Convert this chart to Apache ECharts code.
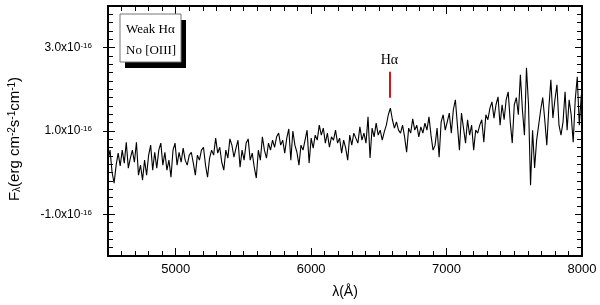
<!DOCTYPE html>
<html><head><meta charset="utf-8">
<script src="https://cdn.jsdelivr.net/npm/echarts@6/dist/echarts.min.js"></script>
<style>html,body{margin:0;padding:0;background:#fff}#c{width:600px;height:305px}</style>
</head><body><div id="c"></div>
<script>
// Wavelength grid (Angstrom)
const wavelength = [
4500,4515,4530,4545,4560,4575,4590,4605,4620,4635,4650,4665,4680,4695,4710,4725,4740,4755,4770,4785,
4800,4815,4830,4845,4860,4875,4890,4905,4920,4935,4950,4965,4980,4995,5010,5025,5040,5055,5070,5085,
5100,5115,5130,5145,5160,5175,5190,5205,5220,5235,5250,5265,5280,5295,5310,5325,5340,5355,5370,5385,
5400,5415,5430,5445,5460,5475,5490,5505,5520,5535,5550,5565,5580,5595,5610,5625,5640,5655,5670,5685,
5700,5715,5730,5745,5760,5775,5790,5805,5820,5835,5850,5865,5880,5895,5910,5925,5940,5955,5970,5985,
6000,6015,6030,6045,6060,6075,6090,6105,6120,6135,6150,6165,6180,6195,6210,6225,6240,6255,6270,6285,
6300,6315,6330,6345,6360,6375,6390,6405,6420,6435,6450,6465,6480,6495,6510,6525,6540,6555,6570,6585,
6600,6615,6630,6645,6660,6675,6690,6705,6720,6735,6750,6765,6780,6795,6810,6825,6840,6855,6870,6885,
6900,6915,6930,6945,6960,6975,6990,7005,7020,7035,7050,7065,7080,7095,7110,7125,7140,7155,7170,7185,
7200,7215,7230,7245,7260,7275,7290,7305,7320,7335,7350,7365,7380,7395,7410,7425,7440,7455,7470,7485,
7500,7515,7530,7545,7560,7575,7590,7605,7620,7635,7650,7665,7680,7695,7710,7725,7740,7755,7770,7785,
7800,7815,7830,7845,7860,7875,7890,7905,7920,7935,7950,7965,7980,7995
];
// Flux in units of 1e-16 erg cm^-2 s^-1 cm^-1
const flux = [
0.30,0.54,0.01,-0.25,0.18,0.47,0.16,0.54,0.23,0.73,0.11,0.35,0.54,0.25,0.73,-0.06,0.18,-0.18,0.30,-0.06,
0.42,0.66,0.06,0.49,0.11,0.54,0.71,0.18,0.49,0.06,0.30,-0.11,0.54,0.71,0.18,0.49,0.25,0.59,0.30,
0.18,0.42,0.49,0.23,-0.06,0.42,0.30,0.54,0.61,0.18,-0.11,0.35,0.54,0.42,0.83,0.47,0.61,0.25,0.06,0.54,
0.35,0.81,0.66,0.37,0.59,0.78,0.13,0.54,0.30,0.71,0.81,0.30,0.47,0.13,-0.13,0.54,0.30,0.86,
0.54,0.35,0.71,0.54,0.78,0.61,0.86,0.95,0.66,0.78,0.47,0.83,1.05,0.30,1.00,0.66,0.49,0.18,0.66,0.54,
0.78,1.02,0.23,0.83,0.59,0.90,0.78,1.14,0.90,1.07,0.71,0.95,0.61,0.86,0.78,1.02,0.71,0.83,0.47,0.78,
0.59,0.30,0.90,0.66,0.95,0.83,0.71,1.10,0.78,0.95,0.71,1.34,0.35,1.07,0.86,1.19,0.90,1.02,0.78,0.98,
1.14,1.39,1.55,1.27,1.07,1.22,1.02,0.95,1.14,0.86,0.49,1.07,0.95,1.29,1.02,1.14,0.86,1.10,0.95,1.19,
1.02,1.34,0.90,0.54,0.66,1.07,0.37,1.22,1.39,1.02,1.22,1.43,0.95,1.51,1.75,1.14,0.54,1.43,1.07,0.71,
1.27,0.90,1.14,0.54,1.02,0.95,1.14,1.27,0.73,1.39,1.27,1.55,1.70,1.31,1.63,1.82,1.14,1.63,1.27,
1.75,1.94,1.22,0.71,1.63,1.80,1.39,2.35,1.51,0.90,2.52,1.63,-0.30,1.02,0.11,0.78,1.14,1.51,1.80,1.27,
0.66,1.55,2.23,1.31,1.75,2.11,1.14,0.90,1.22,1.94,1.02,1.75,1.39,0.73,1.75,2.30,1.14,1.87
];
const xTickLabels = [5000, 6000, 7000, 8000];
const yTickLabels = [-1, 1, 3];
const legendLines = ['Weak H\u03b1', 'No [OIII]'];
const haLabel = 'H\u03b1';
const haWavelength = 6578;
const haMarkerRange = [1.80, 2.42];

const FONT = 'Liberation Sans, Arial, sans-serif';
const SERIF = 'Liberation Serif, Times New Roman, serif';
const X_MIN = 4500, X_MAX = 8000, Y_MIN = -2, Y_MAX = 4;
const n = Math.min(wavelength.length, flux.length);
const seriesData = [];
for (let i = 0; i < n; i++) seriesData.push([wavelength[i], flux[i]]);

function xAx(pos, extra) {
  return Object.assign({
    type: 'value', gridIndex: 0, position: pos, min: X_MIN, max: X_MAX,
    splitLine: { show: false },
    axisLine: { show: false, onZero: false },
    axisLabel: { show: false },
    axisTick: { show: false }
  }, extra);
}
function yAx(pos, extra) {
  return Object.assign({
    type: 'value', gridIndex: 0, position: pos, min: Y_MIN, max: Y_MAX,
    splitLine: { show: false },
    axisLine: { show: false, onZero: false },
    axisLabel: { show: false },
    axisTick: { show: false }
  }, extra);
}
const frameLine = () => ({ show: true, onZero: false, lineStyle: { color: '#000', width: 2 } });
const minorTick = () => ({ show: true, inside: true, length: 5, lineStyle: { color: '#000', width: 1 } });
const majorTick = (vals, inside, len) => ({ show: true, customValues: vals, inside: inside, length: len, lineStyle: { color: '#000', width: 1 } });

const chart = echarts.init(document.getElementById('c'), null, { width: 600, height: 305 });
chart.setOption({
  animation: false,
  backgroundColor: '#fff',
  grid: { left: 108, top: 6, width: 474, height: 250 },
  xAxis: [
    xAx('bottom', {
      interval: 100, axisLine: frameLine(), axisTick: minorTick(),
      axisLabel: { show: true, customValues: xTickLabels, formatter: v => String(v), fontSize: 13, fontFamily: FONT, color: '#000', margin: 7 },
      name: '\u03bb(\u00c5)', nameLocation: 'middle', nameGap: 29,
      nameTextStyle: { fontSize: 14, fontFamily: FONT, color: '#000' }
    }),
    xAx('bottom', { axisTick: majorTick(xTickLabels, true, 8) }),
    xAx('top', { interval: 100, axisLine: frameLine(), axisTick: minorTick() }),
    xAx('top', { axisTick: majorTick(xTickLabels, true, 8) })
  ],
  yAxis: [
    yAx('left', {
      interval: 0.2, axisLine: frameLine(), axisTick: minorTick(),
      axisLabel: {
        show: true, customValues: yTickLabels, margin: 16,
        formatter: v => '{m|' + Number(v).toFixed(1) + 'x10}{e|-16}',
        rich: {
          m: { fontSize: 12, fontFamily: FONT, color: '#000' },
          e: { fontSize: 8, fontFamily: FONT, color: '#000', verticalAlign: 'top' }
        }
      }
    }),
    yAx('left', { axisTick: majorTick(yTickLabels, false, 5) }),
    yAx('left', { axisTick: majorTick(yTickLabels, true, 7) }),
    yAx('right', { interval: 0.2, axisLine: frameLine(), axisTick: minorTick() }),
    yAx('right', { axisTick: majorTick(yTickLabels, true, 7) })
  ],
  series: [{
    type: 'line', xAxisIndex: 0, yAxisIndex: 0, data: seriesData,
    showSymbol: false, symbol: 'none', clip: true, silent: true,
    lineStyle: { color: '#000', width: 1.1 },
    markLine: {
      silent: true, symbol: ['none', 'none'], animation: false,
      lineStyle: { color: '#d01818', width: 2, type: 'solid' },
      label: { show: true, position: 'end', formatter: haLabel, color: '#000', fontSize: 14, fontFamily: SERIF, distance: 5 },
      data: [[{ coord: [haWavelength, haMarkerRange[0]] }, { coord: [haWavelength, haMarkerRange[1]] }]]
    }
  }],
  graphic: [
    { type: 'rect', silent: true, z: 10, shape: { x: 125, y: 20, width: 61, height: 48 }, style: { fill: '#000' } },
    { type: 'rect', silent: true, z: 11, shape: { x: 120, y: 14, width: 61, height: 48 }, style: { fill: '#fff', stroke: '#777', lineWidth: 1 } },
    { type: 'text', silent: true, z: 12, x: 126, y: 30, style: { text: legendLines[0], font: '13px ' + SERIF, fill: '#000', verticalAlign: 'middle' } },
    { type: 'text', silent: true, z: 12, x: 126, y: 51, style: { text: legendLines[1], font: '13px ' + SERIF, fill: '#000', verticalAlign: 'middle' } },
    { type: 'text', silent: true, z: 12, x: 15, y: 139, rotation: Math.PI / 2,
      style: {
        text: '{m|F}{s|\u03bb}{m|(erg cm}{p|-2}{m|s}{p|-1}{m|cm}{p|-1}{m|)}',
        align: 'center', verticalAlign: 'middle', fill: '#000',
        rich: {
          m: { fontSize: 15, fontFamily: FONT, fill: '#000', color: '#000' },
          s: { fontSize: 10, fontFamily: FONT, fill: '#000', color: '#000', verticalAlign: 'bottom' },
          p: { fontSize: 10, fontFamily: FONT, fill: '#000', color: '#000', verticalAlign: 'top' }
        }
      }
    }
  ]
});
</script>
</body></html>
